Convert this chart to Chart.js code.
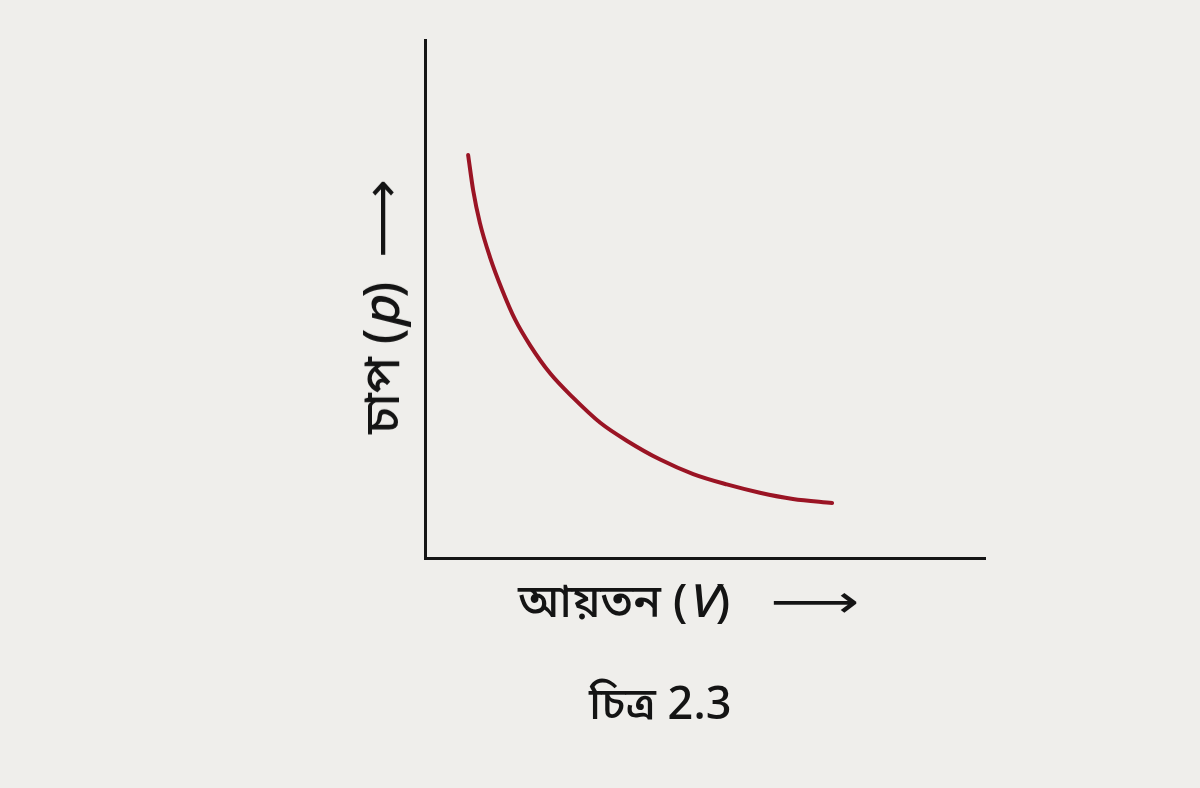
<!DOCTYPE html>
<html>
<head>
<meta charset="utf-8">
<script src="https://cdn.jsdelivr.net/npm/chart.js@4.4.1/dist/chart.umd.min.js"></script>
<style>
  html, body { margin:0; padding:0; background:#efeeeb; }
  #wrap { position:relative; width:1200px; height:788px; overflow:hidden; }
  #chart { position:absolute; left:0; top:0; }
  .lbl { position:absolute; font-family:"Noto Sans Bengali","Noto Sans","DejaVu Sans",sans-serif; color:#141414; white-space:nowrap; font-weight:500; }
  #xlab { left:518px; top:577px; font-size:46px; line-height:58px; }
  #ylab { left:386px; top:310px; font-size:50px; line-height:58px; transform:translate(-50%,-50%) rotate(-90deg); }
  #cap { left:589px; top:680px; font-size:45px; line-height:56px; }
  .arr { display:inline-block; margin-left:40px; transform:scaleX(1.35); transform-origin:left center; font-weight:400; }
  #ylab .arr { margin-left:24px; transform:scaleX(1.1); }
</style>
</head>
<body>
<div id="wrap">
  <canvas id="chart" width="1200" height="788"></canvas>
  <div class="lbl" id="xlab">আয়তন (<i>V</i>)<span class="arr">⟶</span></div>
  <div class="lbl" id="ylab">চাপ (<i>p</i>)<span class="arr">⟶</span></div>
  <div class="lbl" id="cap">চিত্র 2.3</div>
</div>
<script>
// curve values (volume -> pressure), arbitrary units 0..10
const volume   = [0.77, 0.86, 0.98, 1.16, 1.38, 1.61, 1.88, 2.23, 2.64, 3.13, 3.61, 4.20, 4.79, 5.39, 5.98, 6.57, 7.27];
const pressure = [7.78, 7.10, 6.47, 5.81, 5.17, 4.60, 4.10, 3.57, 3.10, 2.61, 2.26, 1.90, 1.62, 1.42, 1.26, 1.14, 1.06];
const xRange = [0, 10];
const yRange = [0, 10];

const points = volume.map((v,i)=>({x:v, y:pressure[i]}));

const axisStyle = {
  display: true,
  grid: { display:false, drawTicks:false },
  ticks: { display:false },
  border: { display:true, color:'#151515', width:3 }
};

new Chart(document.getElementById('chart'), {
  type: 'line',
  data: {
    datasets: [{
      data: points,
      borderColor: '#9a1424',
      borderWidth: 4,
      borderCapStyle: 'round',
      pointRadius: 0,
      cubicInterpolationMode: 'monotone',
      fill: false
    }]
  },
  options: {
    responsive: false,
    animation: false,
    layout: { padding: { left:425, right:215, top:40, bottom:230 } },
    plugins: { legend:{display:false}, tooltip:{enabled:false} },
    scales: {
      x: Object.assign({ type:'linear', min:xRange[0], max:xRange[1] }, axisStyle),
      y: Object.assign({ type:'linear', min:yRange[0], max:yRange[1] }, axisStyle)
    }
  }
});
</script>
</body>
</html>
